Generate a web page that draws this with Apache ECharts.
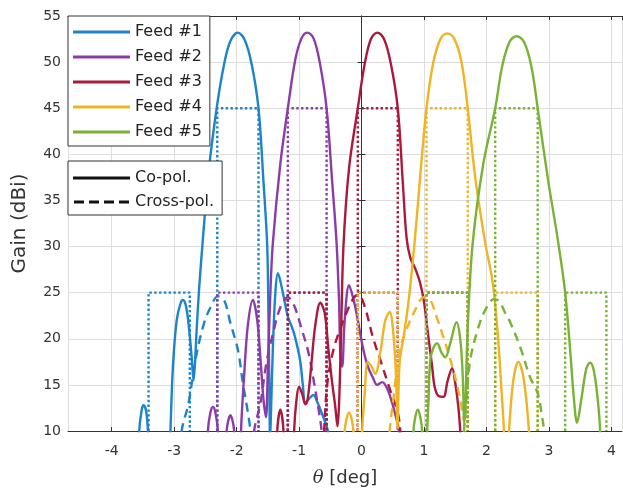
<!DOCTYPE html>
<html lang="en">
<head>
<meta charset="UTF-8">
<title>Gain vs theta</title>
<style>
  html, body { margin: 0; padding: 0; background: #fff; }
  #main { width: 623px; height: 495px; }
</style>
</head>
<body>
<div id="main"></div>
<script src="https://cdn.jsdelivr.net/npm/echarts@6/dist/echarts.min.js"></script>
<script>
// ---- data: [theta (deg), gain (dBi)] ----
var feedNames = ['Feed #1', 'Feed #2', 'Feed #3', 'Feed #4', 'Feed #5'];
var polNames = ['Co-pol.', 'Cross-pol.'];
var feedColors = ['#1c84cb', '#8c3ca8', '#a91a3c', '#f0b324', '#79b234'];

var feed1Co = [[-3.62,0],[-3.56,10],[-3.52,12.3],[-3.49,12.8],[-3.45,12.2],[-3.42,10],[-3.37,0],[-3.11,0],[-3.06,10],[-3.02,17],[-2.96,22],[-2.9,23.8],[-2.86,24.2],[-2.81,23.5],[-2.76,21],[-2.72,18],[-2.69,15.5],[-2.67,17],[-2.64,21],[-2.6,25.5],[-2.55,30],[-2.45,38],[-2.32,45],[-2.2,49.8],[-2.1,52.3],[-1.98,53.2],[-1.87,52.4],[-1.76,49.8],[-1.65,45],[-1.57,37],[-1.51,30],[-1.49,22],[-1.475,14],[-1.465,9],[-1.45,12],[-1.42,19],[-1.38,25],[-1.34,27.1],[-1.26,25],[-1.18,22.4],[-1.1,21],[-1.04,19.5],[-0.98,17.5],[-0.94,15],[-0.9,13],[-0.84,13.5],[-0.77,13.9],[-0.7,13],[-0.64,12],[-0.58,10.9],[-0.54,10],[-0.5,5]];
var feed1Cross = [[-2.92,5],[-2.88,10],[-2.77,13],[-2.66,17.7],[-2.53,21.5],[-2.42,23.4],[-2.3,24.6],[-2.2,24.2],[-2.1,21.7],[-1.98,18.8],[-1.9,15.2],[-1.82,12],[-1.78,10],[-1.75,5]];

var feed2Co = [[-2.5,0],[-2.46,10],[-2.42,12],[-2.38,12.6],[-2.34,12],[-2.3,10],[-2.26,0],[-2.2,0],[-2.16,10],[-2.1,11.7],[-2.04,10],[-2.0,0],[-1.97,0],[-1.93,10],[-1.88,16],[-1.82,21.5],[-1.74,24.2],[-1.67,22],[-1.61,17],[-1.57,13.4],[-1.53,11.5],[-1.5,17],[-1.46,25],[-1.42,30.4],[-1.3,39],[-1.18,45],[-1.06,50.3],[-0.96,52.6],[-0.87,53.2],[-0.77,52.6],[-0.67,50],[-0.56,45],[-0.47,37],[-0.4,30.4],[-0.36,24],[-0.34,18.5],[-0.31,17],[-0.27,22],[-0.2,25.8],[-0.13,24.3],[-0.07,22.4],[0.02,19.1],[0.1,17],[0.18,15.8],[0.25,15],[0.33,15.3],[0.41,14.6],[0.5,12.8],[0.57,11],[0.6,10],[0.64,5]];
var feed2Cross = [[-1.76,5],[-1.72,10],[-1.62,13],[-1.52,17.5],[-1.41,20.8],[-1.3,23.4],[-1.18,24.5],[-1.08,23.6],[-0.97,21.3],[-0.85,18.5],[-0.76,15.2],[-0.68,12],[-0.64,10],[-0.6,5]];

var feed3Co = [[-1.4,0],[-1.35,10],[-1.3,12.3],[-1.25,10],[-1.2,0],[-1.12,0],[-1.08,10],[-1.04,13.5],[-1.0,14.8],[-0.95,14],[-0.9,12.9],[-0.86,13.6],[-0.8,17.5],[-0.74,21.5],[-0.66,23.9],[-0.59,22.8],[-0.53,18.8],[-0.47,15.2],[-0.42,12.6],[-0.385,10.5],[-0.36,13],[-0.33,20],[-0.29,30],[-0.2,38.5],[-0.06,45],[0.05,49.8],[0.15,52.5],[0.25,53.2],[0.36,52.5],[0.47,49.8],[0.58,45],[0.66,37],[0.72,31],[0.78,28.8],[0.86,27.6],[0.94,26],[1.0,24],[1.07,20.2],[1.13,17],[1.17,14.8],[1.23,13.8],[1.31,13.7],[1.38,15.5],[1.45,16.8],[1.5,15.2],[1.55,12.6],[1.58,10],[1.62,5]];
var feed3Cross = [[-0.64,5],[-0.6,10],[-0.55,15],[-0.45,18.8],[-0.29,22],[-0.13,24.4],[-0.05,24.8],[0.05,23.5],[0.18,20.2],[0.3,17.7],[0.46,14.4],[0.58,12],[0.62,10],[0.65,5]];

var feed4Co = [[-0.32,0],[-0.27,10],[-0.2,12],[-0.13,10],[-0.08,0],[-0.03,0],[0.01,10],[0.05,14],[0.1,17.5],[0.16,17],[0.22,16.2],[0.3,18.5],[0.38,22],[0.45,22.9],[0.51,20.5],[0.555,15.5],[0.575,10.5],[0.61,17.5],[0.68,20.5],[0.76,24.5],[0.85,30.5],[0.95,38.5],[1.04,45],[1.15,50],[1.27,52.6],[1.37,53.1],[1.48,52.6],[1.6,50],[1.7,45],[1.82,37.5],[1.98,30.4],[2.1,26.1],[2.18,20.6],[2.25,13.4],[2.28,10],[2.31,5],[2.36,10],[2.43,15.5],[2.51,17.5],[2.6,15.5],[2.68,10],[2.72,5]];
var feed4Cross = [[0.42,5],[0.45,10],[0.52,14],[0.6,18.5],[0.72,21],[0.85,23],[1.0,24.5],[1.1,24.2],[1.2,22.4],[1.3,20.4],[1.42,17.8],[1.55,14.4],[1.63,11.5],[1.66,10],[1.69,5]];

var feed5Co = [[0.78,0],[0.83,10],[0.9,12.3],[0.97,10],[1.0,0],[1.02,5],[1.05,10],[1.07,13],[1.1,17.7],[1.15,19],[1.21,19.5],[1.28,18.5],[1.34,18],[1.42,19.5],[1.52,21.8],[1.58,20],[1.62,16],[1.645,11],[1.66,12],[1.7,21.3],[1.78,30.4],[1.95,39],[2.14,45],[2.25,49.5],[2.37,52.2],[2.48,52.8],[2.6,52.2],[2.72,49.5],[2.82,45],[2.98,37.5],[3.15,30.4],[3.26,25],[3.34,18.8],[3.4,13.5],[3.45,10.9],[3.52,13.5],[3.6,16.8],[3.66,17.4],[3.72,16.5],[3.78,13.5],[3.82,10],[3.86,0]];
var feed5Cross = [[1.6,5],[1.64,10],[1.68,13.5],[1.74,17.7],[1.86,21],[1.98,23.1],[2.12,24.3],[2.2,24.1],[2.3,22.8],[2.38,21.8],[2.54,19.1],[2.7,15.8],[2.82,14.1],[2.88,12],[2.92,10],[2.95,5]];

// coverage cells [left, right] in deg, and mask boxes per feed: [cell index, level dBi]
var cellEdges = [[-3.41,-2.75],[-2.31,-1.65],[-1.18,-0.56],[-0.06,0.58],[1.04,1.70],[2.14,2.82],[3.26,3.92]];
var feedMasks = [
    [[0,25],[2,25],[1,45]],
    [[1,25],[3,25],[2,45]],
    [[2,25],[4,25],[3,45]],
    [[3,25],[5,25],[4,45]],
    [[4,25],[6,25],[5,45]]
];

var coData = [feed1Co, feed2Co, feed3Co, feed4Co, feed5Co];
var crossData = [feed1Cross, feed2Cross, feed3Cross, feed4Cross, feed5Cross];

var yMin = 10;

function maskPath(boxes) {
    var pts = [];
    boxes.forEach(function(b) {
        var e = cellEdges[b[0]];
        pts.push([e[0], yMin], [e[0], b[1]], [e[1], b[1]], [e[1], yMin], [e[1], '-']);
    });
    return pts;
}

var series = [];
feedNames.forEach(function(name, i) {
    series.push({
        name: name, type: 'line', data: coData[i], symbol: 'none', smooth: 0.35,
        color: feedColors[i], lineStyle: { width: 2.4, color: feedColors[i] }
    });
    series.push({
        name: name + ' x', type: 'line', data: crossData[i], symbol: 'none', smooth: 0.35,
        color: feedColors[i], lineStyle: { width: 2.4, type: [9, 6], color: feedColors[i] }
    });
    series.push({
        name: name + ' mask', type: 'line', data: maskPath(feedMasks[i]), symbol: 'none',
        connectNulls: false,
        color: feedColors[i], lineStyle: { width: 2.4, type: [2.4, 2.4], color: feedColors[i] }
    });
});
// dummy series for the polarisation legend
polNames.forEach(function(name) {
    series.push({ name: name, type: 'line', data: [], symbol: 'none', color: '#111' });
});

var font = 'DejaVu Sans';
var solidIcon = 'path://M0,0H57V3H0Z';
var dashIcon = 'path://M0,0H10V3H0Z M15,0H25V3H15Z M30,0H40V3H30Z M45,0H55V3H45Z';

var legendBase = {
    orient: 'vertical', left: 68, itemWidth: 57, itemHeight: 3,
    borderColor: '#333', borderWidth: 1, backgroundColor: '#fff',
    borderRadius: 0, selectedMode: false,
    textStyle: { fontFamily: font, fontSize: 16, color: '#222', padding: [0, 0, 0, 0] }
};

var axisCommon = {
    axisLine: { show: true, lineStyle: { color: '#333', width: 1 } },
    axisTick: { show: true, inside: true, length: 4, lineStyle: { color: '#333' } }
};

var myChart = echarts.init(document.getElementById('main'), null, { renderer: 'canvas' });

var option = {
    animation: false,
    backgroundColor: '#fff',
    grid: { left: 68, right: 1, top: 16, bottom: 64, containLabel: false },
    legend: [
        Object.assign({}, legendBase, {
            top: 16, itemGap: 9, padding: [8, 8, 6, 5],
            data: feedNames.map(function(n) { return { name: n, icon: solidIcon }; })
        }),
        Object.assign({}, legendBase, {
            top: 161, itemGap: 8, padding: [9, 8, 5, 5],
            data: [{ name: polNames[0], icon: solidIcon }, { name: polNames[1], icon: dashIcon }]
        })
    ],
    xAxis: [
        Object.assign({}, axisCommon, {
            type: 'value', min: -4.7, max: 4.17, splitNumber: 9, minInterval: 1, maxInterval: 1,
            name: '{i|θ} [deg]', nameLocation: 'middle', nameGap: 38,
            nameTextStyle: { fontFamily: font, fontSize: 18, color: '#333',
                rich: { i: { fontFamily: 'DejaVu Serif', fontStyle: 'italic', fontSize: 18, color: '#333' } } },
            axisLabel: { fontFamily: font, fontSize: 14, color: '#333', margin: 13,
                showMinLabel: false, showMaxLabel: false },
            splitLine: { show: true, lineStyle: { color: '#dedede', width: 1 } }
        }),
        Object.assign({}, axisCommon, {
            type: 'value', position: 'top', min: -4.7, max: 4.17, splitNumber: 9, minInterval: 1, maxInterval: 1,
            axisLabel: { show: false }, splitLine: { show: false }
        })
    ],
    yAxis: [
        Object.assign({}, axisCommon, {
            type: 'value', min: 10, max: 55, interval: 5,
            name: 'Gain (dBi)', nameLocation: 'middle', nameGap: 38,
            nameTextStyle: { fontFamily: font, fontSize: 20, color: '#333' },
            axisLabel: { fontFamily: font, fontSize: 14, color: '#333', margin: 7 },
            splitLine: { show: true, lineStyle: { color: '#dedede', width: 1 } }
        }),
        Object.assign({}, axisCommon, {
            type: 'value', position: 'right', min: 10, max: 55, interval: 5,
            axisLabel: { show: false }, splitLine: { show: false }
        })
    ],
    series: series
};

myChart.setOption(option);
</script>
</body>
</html>
